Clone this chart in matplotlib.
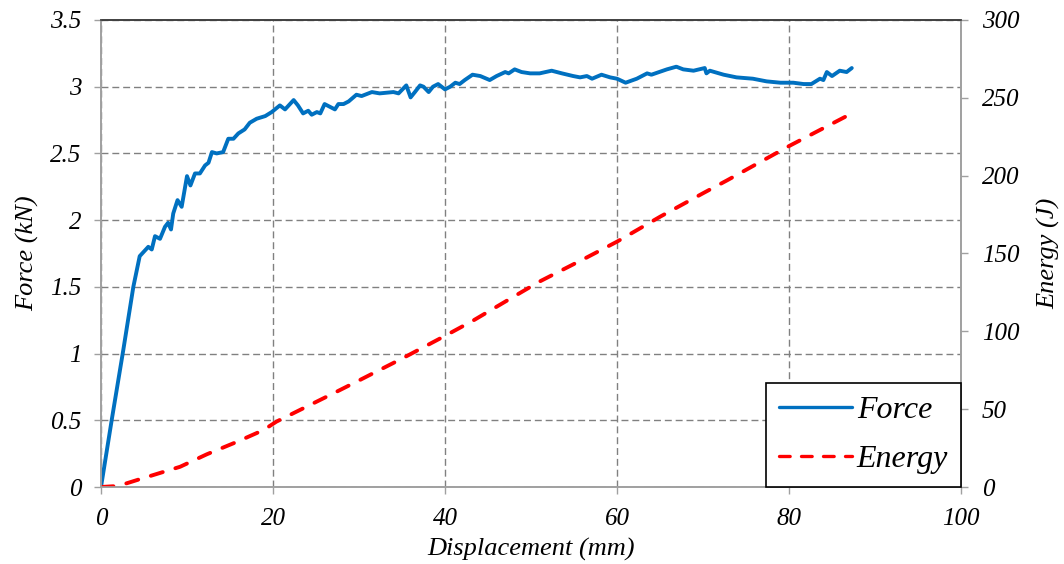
import matplotlib
matplotlib.use("Agg")
import matplotlib.pyplot as plt

# force-displacement curve
disp = [0, 1.24, 2.6, 3.76, 4.5, 5.5, 5.9, 6.28, 6.86, 7.44,
        7.8, 8.14, 8.4, 8.9, 9.38, 10.0, 10.4, 10.93, 11.5, 12.1,
        12.5, 12.9, 13.45, 14.2, 14.8, 15.4, 15.97, 16.7, 17.3, 18.1,
        19.1, 19.85, 20.8, 21.4, 22.4, 22.9, 23.5, 24.1, 24.5, 25.1,
        25.5, 26.0, 26.6, 27.2, 27.6, 28.2, 28.8, 29.7, 30.3, 31.5,
        32.4, 34.0, 34.6, 35.5, 36.0, 36.5, 37.1, 37.5, 38.1, 38.6,
        39.2, 40.0, 40.6, 41.2, 41.7, 42.3, 43.2, 44.1, 45.2, 46.0,
        47.0, 47.4, 48.1, 48.9, 49.9, 51.0, 52.4, 53.6, 54.9, 55.7,
        56.5, 57.1, 58.2, 59.2, 60.0, 61.0, 62.3, 63.5, 64.0, 65.8,
        66.9, 67.7, 68.9, 70.2, 70.4, 70.8, 72.4, 73.9, 75.8, 77.4,
        79.0, 80.5, 81.7, 82.6, 83.6, 84.0, 84.4, 85.0, 85.9, 86.7,
        87.3]
force = [0, 0.50, 1.03, 1.50, 1.73, 1.80, 1.78, 1.88, 1.86, 1.95,
         1.98, 1.93, 2.05, 2.15, 2.10, 2.33, 2.26, 2.35, 2.35, 2.41,
         2.43, 2.51, 2.50, 2.51, 2.61, 2.61, 2.65, 2.68, 2.73, 2.76,
         2.78, 2.81, 2.86, 2.83, 2.90, 2.86, 2.80, 2.82, 2.79, 2.81,
         2.80, 2.87, 2.85, 2.83, 2.87, 2.87, 2.89, 2.94, 2.93, 2.96,
         2.95, 2.96, 2.95, 3.01, 2.92, 2.96, 3.01, 3.00, 2.96, 3.00,
         3.02, 2.98, 3.00, 3.03, 3.02, 3.05, 3.09, 3.08, 3.05, 3.08,
         3.11, 3.10, 3.13, 3.11, 3.10, 3.10, 3.12, 3.10, 3.08, 3.07,
         3.08, 3.06, 3.09, 3.07, 3.06, 3.03, 3.06, 3.10, 3.09, 3.13,
         3.15, 3.13, 3.12, 3.14, 3.10, 3.12, 3.09, 3.07, 3.06, 3.04,
         3.03, 3.03, 3.02, 3.02, 3.06, 3.05, 3.11, 3.08, 3.12, 3.11,
         3.14]

# absorbed energy curve
disp_e = [0, 1.5, 3.0, 4.5, 6.5, 9.2, 12.3, 15.8, 18.9, 20.4, 23.9, 26.6,
          29.7, 35.0, 39.8, 43.3, 47.9, 51.0, 56.5, 60.0, 65.0, 70.0, 72.8,
          80.0, 87.3]
energy = [0, 0.5, 2.4, 5, 8.4, 13, 21, 29, 36.6, 42, 51.6, 59,
          67.6, 82.5, 96.5, 107, 122, 132, 147.5, 157.6, 173.6, 188.7, 197,
          219, 240]

plt.rcParams["font.family"] = ["Liberation Serif", "DejaVu Serif"]
plt.rcParams["font.style"] = "italic"

fig = plt.figure(figsize=(10.64, 5.64), dpi=100)
ax = fig.add_axes([101 / 1064, 77 / 564, 860 / 1064, 467 / 564])
ax2 = ax.twinx()

(l1,) = ax.plot(disp, force, color="#0070C0", lw=2.8, label="Force",
                solid_capstyle="round", solid_joinstyle="round")
(l2,) = ax2.plot(disp_e, energy, color="#FF0000", lw=2.8, label="Energy",
                 dashes=(3.2, 3.4), dash_capstyle="round")

ax.set_xlim(0, 100)
ax.set_ylim(0, 3.5)
ax2.set_ylim(0, 300)
ax.set_xticks([0, 20, 40, 60, 80, 100])
ax.set_yticks([0, 0.5, 1, 1.5, 2, 2.5, 3, 3.5])
ax.set_yticklabels(["0", "0.5", "1", "1.5", "2", "2.5", "3", "3.5"])
ax2.set_yticks([0, 50, 100, 150, 200, 250, 300])

ax.grid(True, color="#808080", ls=(0, (5, 2.8)), lw=1)

for a in (ax, ax2):
    for s in a.spines.values():
        s.set_color("#A0A0A0")
        s.set_linewidth(1.2)
    a.spines["top"].set_color("#404040")
    a.tick_params(colors="#A0A0A0", labelcolor="black", labelsize=18,
                  length=5, width=1)
ax.tick_params(axis="y", pad=9)
ax.tick_params(axis="x", pad=10)
ax2.tick_params(axis="y", pad=10)

ax.set_xlabel("Displacement (mm)", fontsize=19, labelpad=6)
ax.set_ylabel("Force (kN)", fontsize=19, labelpad=8)
ax2.set_ylabel("Energy (J)", fontsize=19, labelpad=13)

leg = ax2.legend([l1, l2], ["Force", "Energy"], loc="lower right",
                 fontsize=23, frameon=True, fancybox=False, framealpha=1,
                 edgecolor="black", borderaxespad=0, handlelength=2.3,
                 handletextpad=0.15, labelspacing=0.62, borderpad=0.4)
leg.get_frame().set_linewidth(1.2)
for h in leg.get_lines():
    h.set_linewidth(2.4)

fig.savefig("out.png", dpi=100)
